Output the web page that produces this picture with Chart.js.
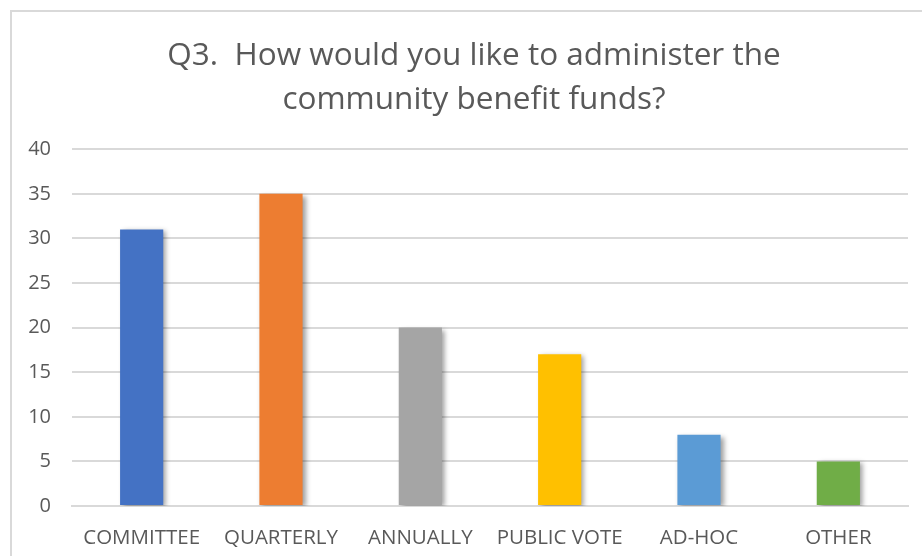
<!DOCTYPE html>
<html>
<head>
<meta charset="utf-8">
<script src="https://cdn.jsdelivr.net/npm/chart.js@4"></script>
<style>
  html, body { margin: 0; padding: 0; background: #fff; overflow: hidden; }
  #frame { position: absolute; left: 10px; top: 10px; width: 1000px; height: 1000px;
           border: 2px solid #d9d9d9; box-sizing: border-box; }
  #wrap { position: absolute; left: 0; top: 0; width: 922px; height: 556px; }
</style>
</head>
<body>
<div id="frame"></div>
<div id="wrap"><canvas id="c" width="922" height="556"></canvas></div>
<script>
// Survey answers for Q3
const categories = ['COMMITTEE', 'QUARTERLY', 'ANNUALLY', 'PUBLIC VOTE', 'AD-HOC', 'OTHER'];
const responses = [31, 35, 20, 17, 8, 5];
const barColors = ['#4472C4', '#ED7D31', '#A5A5A5', '#FFC000', '#5B9BD5', '#70AD47'];
const yTicks = { min: 0, max: 40, step: 5 };
const titleLines = ['Q3.  How would you like to administer the', 'community benefit funds?'];

// Soft drop shadow behind the bars
const barShadow = {
  id: 'barShadow',
  beforeDatasetsDraw(chart) {
    const ctx = chart.ctx;
    ctx.save();
    ctx.shadowColor = 'rgba(0,0,0,0.38)';
    ctx.shadowBlur = 5;
    ctx.shadowOffsetX = 3;
    ctx.shadowOffsetY = 2;
  },
  afterDatasetsDraw(chart) {
    chart.ctx.restore();
  }
};

// Centre the title over the plot frame rather than the whole canvas
const titleCentre = {
  id: 'titleCentre',
  afterLayout(chart) {
    if (chart.titleBlock) chart.titleBlock.left = 40;
  }
};

new Chart(document.getElementById('c'), {
  type: 'bar',
  data: {
    labels: categories,
    datasets: [{
      data: responses,
      backgroundColor: barColors,
      borderWidth: 0,
      categoryPercentage: 1,
      barPercentage: 0.31
    }]
  },
  plugins: [barShadow, titleCentre],
  options: {
    responsive: false,
    animation: false,
    devicePixelRatio: 1,
    layout: { padding: { top: 10, left: 0, right: 14, bottom: 0 } },
    plugins: {
      legend: { display: false },
      tooltip: { enabled: false },
      title: {
        display: true,
        text: titleLines,
        color: '#595959',
        font: { family: 'Open Sans', size: 31.5, weight: 'normal', lineHeight: 1.4 },
        padding: { top: 24, bottom: 27 }
      }
    },
    scales: {
      x: {
        grid: { display: false, drawTicks: false },
        border: { display: true, color: '#d9d9d9', width: 2 },
        ticks: {
          color: '#595959',
          font: { family: 'Open Sans', size: 20.5 },
          padding: 20,
          maxRotation: 0,
          autoSkip: false
        },
        afterFit(scale) { scale.height = 50; }
      },
      y: {
        min: yTicks.min,
        max: yTicks.max,
        grid: { color: '#d9d9d9', lineWidth: 2, drawTicks: false },
        border: { display: false },
        ticks: {
          stepSize: yTicks.step,
          color: '#595959',
          font: { family: 'Open Sans', size: 20 },
          padding: 21
        },
        afterFit(scale) { scale.width = 72; }
      }
    }
  }
});
</script>
</body>
</html>
